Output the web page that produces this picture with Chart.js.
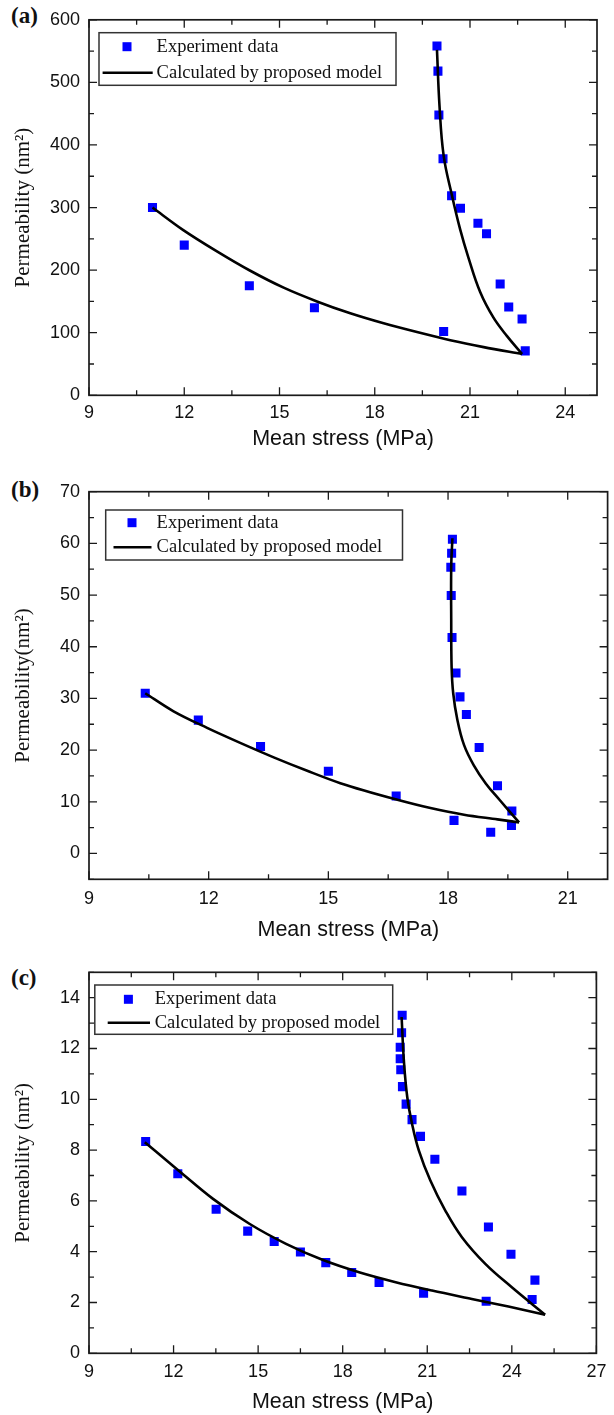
<!DOCTYPE html>
<html>
<head>
<meta charset="utf-8">
<script src="https://cdn.jsdelivr.net/npm/chart.js@4.4.1/dist/chart.umd.min.js"></script>
<style>
  body { margin: 0; background: #fff; width: 614px; height: 1415px; position: relative; overflow: hidden; }
  canvas { position: absolute; left: 0; }
  .tag { position: absolute; left: 11px; font-family: "Liberation Serif", serif; font-weight: bold; font-size: 23px; line-height: 23px; color: #111; }
</style>
</head>
<body>
<div class="tag" style="top:4px">(a)</div>
<div class="tag" style="top:478px">(b)</div>
<div class="tag" style="top:966px">(c)</div>
<canvas id="chartA" width="614" height="460" style="top:0"></canvas>
<canvas id="chartB" width="614" height="485" style="top:460px"></canvas>
<canvas id="chartC" width="614" height="470" style="top:945px"></canvas>
<script>
// ---- panel (a) ----
const expStressA = [11.0, 12.0, 14.05, 16.1, 20.17, 19.96, 19.99, 20.02, 20.15, 20.42, 20.70, 21.25, 21.52, 21.95, 22.22, 22.64, 22.74];
const expPermA = [300, 240, 175, 140, 102, 558, 518, 448, 378, 319, 299, 275, 258, 178, 141, 122, 71];
const lowStressA = [11.0, 11.97, 13.03, 14.08, 15.13, 16.18, 17.23, 18.28, 19.33, 20.38, 21.43, 22.64];
const lowPermA = [300, 264, 230, 199, 172, 150, 131, 115, 101, 88, 77, 66];
const upStressA = [19.96, 20.04, 20.17, 20.42, 20.69, 20.95, 21.32, 21.74, 22.16, 22.64];
const upPermA = [552, 462, 383, 322, 265, 220, 165, 124, 95, 66];
const xTicksA = [9, 12, 15, 18, 21, 24];
const yTicksA = [0, 100, 200, 300, 400, 500, 600];

// ---- panel (b) ----
const expStressB = [10.41, 11.74, 13.30, 15.0, 16.70, 18.15, 19.07, 19.59, 19.60, 19.24, 18.78, 18.46, 18.30, 18.20, 18.10, 18.08, 18.07, 18.09, 18.11];
const expPermB = [31.0, 25.8, 20.7, 15.9, 11.1, 6.4, 4.1, 5.4, 8.2, 13.1, 20.5, 26.9, 30.3, 34.9, 41.8, 49.9, 55.4, 58.1, 60.8];
const lowStressB = [10.41, 11.12, 11.96, 12.79, 13.63, 14.47, 15.30, 16.73, 17.56, 18.40, 19.24, 19.78];
const lowPermB = [31.0, 27.5, 24.3, 21.4, 18.6, 16.0, 13.6, 10.4, 8.8, 7.5, 6.6, 6.0];
const upStressB = [18.11, 18.08, 18.08, 18.09, 18.13, 18.23, 18.40, 18.65, 18.95, 19.30, 19.78];
const upPermB = [61.0, 55.5, 45.2, 36.0, 31.0, 26.0, 21.0, 17.0, 13.5, 10.3, 6.0];
const xTicksB = [9, 12, 15, 18, 21];
const yTicksB = [0, 10, 20, 30, 40, 50, 60, 70];

// ---- panel (c) ----
const expStressC = [11.01, 12.15, 13.51, 14.63, 15.57, 16.50, 17.40, 18.32, 19.29, 20.87, 23.09, 24.72, 24.82, 23.97, 23.17, 22.23, 21.27, 20.76, 20.46, 20.25, 20.12, 20.06, 20.04, 20.04, 20.09, 20.11];
const expPermC = [8.34, 7.07, 5.67, 4.81, 4.40, 3.99, 3.57, 3.18, 2.79, 2.37, 2.05, 2.12, 2.88, 3.90, 4.97, 6.39, 7.64, 8.54, 9.20, 9.81, 10.5, 11.16, 11.6, 12.05, 12.62, 13.31];
const lowStressC = [10.98, 12.10, 13.40, 14.69, 15.99, 17.28, 18.58, 19.88, 21.17, 22.58, 23.88, 25.18];
const lowPermC = [8.31, 7.27, 6.08, 5.10, 4.31, 3.68, 3.19, 2.80, 2.47, 2.14, 1.84, 1.52];
const upStressC = [20.09, 20.17, 20.29, 20.46, 20.70, 21.11, 21.64, 22.23, 23.06, 24.0, 25.18];
const upPermC = [13.24, 11.53, 10.09, 9.04, 7.99, 6.80, 5.62, 4.57, 3.52, 2.60, 1.52];
const xTicksC = [9, 12, 15, 18, 21, 24, 27];
const yTicksC = [0, 2, 4, 6, 8, 10, 12, 14];

const expLabel = 'Experiment data';
const modelLabel = 'Calculated by proposed model';

const toXY = (xs, ys) => xs.map((x, i) => ({ x: x, y: ys[i] }));

// marcos con ticks hacia dentro en los cuatro lados
function tickSet(scale) {
  const vals = scale.ticks.map(t => t.value);
  const half = (vals[1] - vals[0]) / 2;
  const out = [];
  for (let k = -1; ; k++) {
    const v = Math.round((vals[0] + k * half) * 1000) / 1000;
    if (v > scale.max + 1e-9) break;
    if (v < scale.min - 1e-9) continue;
    out.push([v, k % 2 === 0 ? 8 : 5]);
  }
  return out;
}

const frameTicks = {
  id: 'frameTicks',
  afterDatasetsDraw(chart) {
    const { ctx, chartArea: a, scales: { x, y } } = chart;
    ctx.save();
    ctx.strokeStyle = '#1a1a1a';
    ctx.lineWidth = 1.3;
    ctx.beginPath();
    tickSet(x).forEach(([v, len]) => {
      const px = x.getPixelForValue(v);
      ctx.moveTo(px, a.bottom); ctx.lineTo(px, a.bottom - len);
      ctx.moveTo(px, a.top); ctx.lineTo(px, a.top + len);
    });
    tickSet(y).forEach(([v, len]) => {
      const py = y.getPixelForValue(v);
      ctx.moveTo(a.left, py); ctx.lineTo(a.left + len, py);
      ctx.moveTo(a.right, py); ctx.lineTo(a.right - len, py);
    });
    ctx.stroke();
    ctx.lineWidth = 1.7;
    ctx.strokeRect(a.left, a.top, a.right - a.left, a.bottom - a.top);
    ctx.restore();
  }
};

const boxLegend = {
  id: 'boxLegend',
  afterDraw(chart, args, opts) {
    const { ctx } = chart;
    const ds = chart.data.datasets;
    const [bx, by, bw, bh] = opts.box;
    ctx.save();
    ctx.fillStyle = '#fff';
    ctx.fillRect(bx, by, bw, bh);
    ctx.strokeStyle = '#333';
    ctx.lineWidth = 1.5;
    ctx.strokeRect(bx, by, bw, bh);
    // marcador
    ctx.fillStyle = ds[2].backgroundColor;
    ctx.fillRect(opts.marker[0] - 4.5, opts.marker[1] - 4.5, 9, 9);
    // muestra de línea
    ctx.strokeStyle = ds[0].borderColor;
    ctx.lineWidth = ds[0].borderWidth;
    ctx.beginPath();
    ctx.moveTo(opts.line[0], opts.line[2]);
    ctx.lineTo(opts.line[1], opts.line[2]);
    ctx.stroke();
    ctx.fillStyle = '#111';
    ctx.font = '18.5px "Liberation Serif"';
    ctx.textBaseline = 'middle';
    ctx.fillText(ds[2].label, opts.textX, opts.marker[1]);
    ctx.fillText(ds[0].label, opts.textX, opts.line[2]);
    ctx.restore();
  }
};

function makeChart(id, p) {
  const lineStyle = { showLine: true, borderColor: '#000', backgroundColor: '#000', borderWidth: 2.6, pointRadius: 0, order: 1 };
  return new Chart(document.getElementById(id), {
    type: 'scatter',
    data: {
      datasets: [
        // rama inferior: x creciente, curva monótona
        Object.assign({ label: modelLabel, data: toXY(p.lowX, p.lowY), cubicInterpolationMode: 'monotone' }, lineStyle),
        // rama superior: casi vertical, bezier normal
        Object.assign({ label: modelLabel, data: toXY(p.upX, p.upY), tension: 0.4 }, lineStyle),
        {
          label: expLabel,
          data: toXY(p.expX, p.expY),
          pointStyle: 'rect',
          pointRadius: 6.4,
          borderWidth: 0,
          backgroundColor: '#0000ff',
          showLine: false,
          order: 2
        }
      ]
    },
    options: {
      responsive: false,
      animation: false,
      devicePixelRatio: 1,
      layout: { padding: { left: 0, right: p.padRight, top: p.padTop, bottom: 0 } },
      plugins: {
        legend: { display: false },
        tooltip: { enabled: false },
        boxLegend: p.legend
      },
      scales: {
        x: {
          type: 'linear',
          min: p.xMin, max: p.xMax,
          afterBuildTicks: s => { s.ticks = p.xTicks.map(v => ({ value: v })); },
          afterFit: s => { s.height = p.xAxisH; },
          grid: { display: false, drawTicks: false },
          border: { display: false },
          ticks: { padding: p.xTickPad, color: '#111', font: { family: 'Liberation Sans', size: 18 } },
          title: { display: true, text: 'Mean stress (MPa)', color: '#111', font: { family: 'Liberation Sans', size: 21.5 }, padding: { top: 0, bottom: p.xTitlePad } }
        },
        y: {
          type: 'linear',
          min: p.yMin, max: p.yMax,
          afterBuildTicks: s => { s.ticks = p.yTicks.map(v => ({ value: v })); },
          afterFit: s => { s.width = 89; },
          grid: { display: false, drawTicks: false },
          border: { display: false },
          ticks: { padding: 9, color: '#111', font: { family: 'Liberation Sans', size: 18 } },
          title: { display: true, text: p.yTitle, color: '#111', font: { family: 'Liberation Serif', size: 21 }, padding: { top: 11, bottom: 0 } }
        }
      }
    },
    plugins: [frameTicks, boxLegend]
  });
}

makeChart('chartA', {
  expX: expStressA, expY: expPermA, lowX: lowStressA, lowY: lowPermA, upX: upStressA, upY: upPermA,
  xTicks: xTicksA, yTicks: yTicksA, xMin: 9, xMax: 25, yMin: 0, yMax: 600,
  padTop: 16, padRight: 17, xAxisH: 64.7, xTickPad: 7, xTitlePad: 8,
  yTitle: 'Permeability (nm²)',
  legend: { box: [99, 32.7, 297, 52.6], marker: [127, 46.7], line: [102.6, 152.7, 72.7], textX: 156.6 }
});

makeChart('chartB', {
  expX: expStressB, expY: expPermB, lowX: lowStressB, lowY: lowPermB, upX: upStressB, upY: upPermB,
  xTicks: xTicksB, yTicks: yTicksB, xMin: 9, xMax: 22, yMin: -5, yMax: 70,
  padTop: 31.7, padRight: 5, xAxisH: 65.7, xTickPad: 9, xTitlePad: 2,
  yTitle: 'Permeability(nm²)',
  legend: { box: [105.7, 50, 296.8, 50], marker: [132, 62.7], line: [113.5, 151.5, 87.3], textX: 156.6 }
});

makeChart('chartC', {
  expX: expStressC, expY: expPermC, lowX: lowStressC, lowY: lowPermC, upX: upStressC, upY: upPermC,
  xTicks: xTicksC, yTicks: yTicksC, xMin: 9, xMax: 27, yMin: 0, yMax: 15,
  padTop: 27.3, padRight: 15.7, xAxisH: 61.7, xTickPad: 7.6, xTitlePad: 0.5,
  yTitle: 'Permeability (nm²)',
  legend: { box: [94.8, 40, 297.9, 49.3], marker: [128.4, 54.3], line: [107.7, 150, 77.7], textX: 154.7 }
});
</script>
</body>
</html>
